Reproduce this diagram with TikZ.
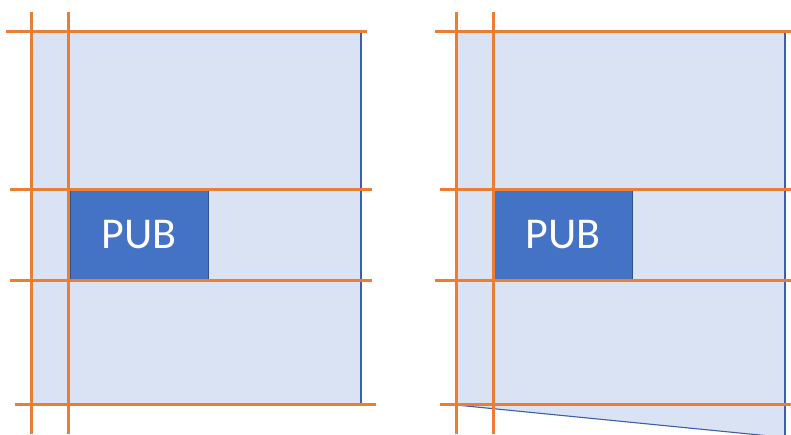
\documentclass[tikz,border=0pt]{standalone}
\usepackage{fontspec}
\setmainfont{Carlito}
\definecolor{lightfill}{HTML}{DAE3F3}
\definecolor{gridorange}{HTML}{ED7D31}
\definecolor{pubblue}{HTML}{4472C4}
\definecolor{edgeblue}{HTML}{3B5FA8}
\definecolor{pubedge}{HTML}{2F528F}
\tikzset{
  gridline/.style={draw=gridorange, line width=3pt},
  panelfill/.style={fill=lightfill, draw=none},
  paneledge/.style={draw=edgeblue, line width=1.1pt},
  pubbox/.style={fill=pubblue, draw=pubedge, line width=0.6pt, text=white,
    font=\fontsize{44}{44}\selectfont, inner sep=0pt, anchor=north west,
    minimum width=138pt, minimum height=89pt}
}
\begin{document}
\begin{tikzpicture}[x=1pt,y=-1pt]
\useasboundingbox (0,0) rectangle (791,434);
\begin{scope}
\clip (0,0) rectangle (791,434);
% left panel
\fill[panelfill] (31,31) rectangle (361,405);
\draw[paneledge] (361,31) -- (361,405);
\node[pubbox] (pubL) at (70,190) {PUB};
% right panel
\fill[panelfill] (456,31) -- (785,31) -- (785,437.5) -- (456,405) -- cycle;
\draw[paneledge] (785,31) -- (785,438);
\draw[paneledge] (456,405) -- (785,437.5);
\node[pubbox] (pubR) at (494,190) {PUB};
% orange grid, left
\draw[gridline] (31,12) -- (31,434);
\draw[gridline] (68,12) -- (68,434);
\draw[gridline] (6,31) -- (367,31);
\draw[gridline] (10,189) -- (372,189);
\draw[gridline] (10,280) -- (372,280);
\draw[gridline] (15,404.5) -- (376,404.5);
% orange grid, right
\draw[gridline] (456,12) -- (456,434);
\draw[gridline] (493,12) -- (493,434);
\draw[gridline] (435,31) -- (791,31);
\draw[gridline] (440,189) -- (791,189);
\draw[gridline] (435,280) -- (791,280);
\draw[gridline] (440,404.5) -- (791,404.5);
\end{scope}
\end{tikzpicture}
\end{document}
